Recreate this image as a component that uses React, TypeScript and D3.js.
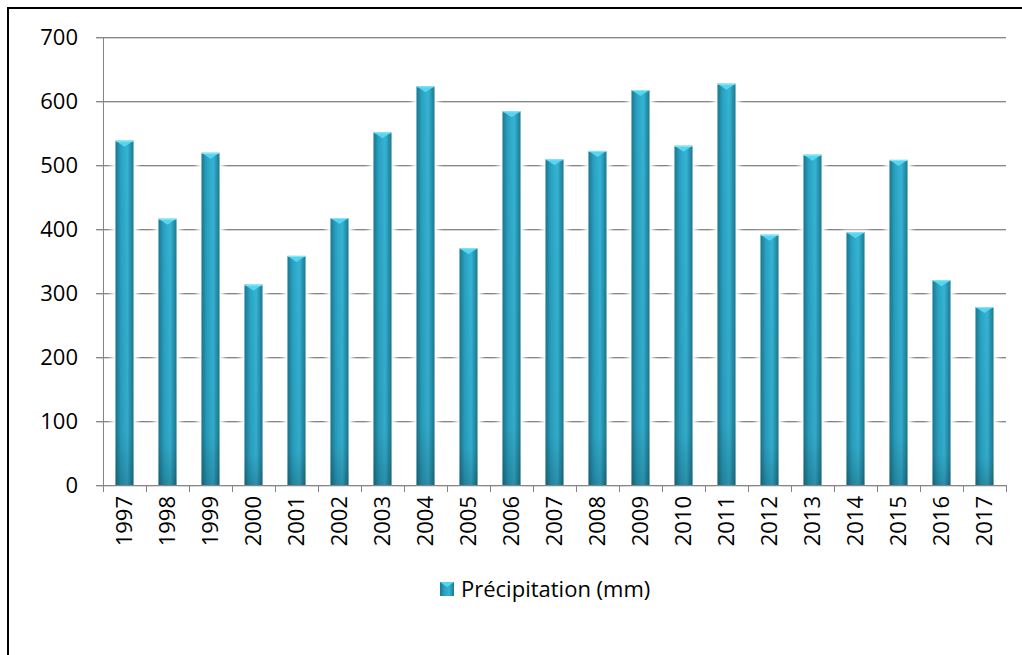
import * as d3 from "d3";
import { useEffect, useRef } from "react";

const years = [
  "1997", "1998", "1999", "2000", "2001", "2002", "2003", "2004", "2005", "2006", "2007",
  "2008", "2009", "2010", "2011", "2012", "2013", "2014", "2015", "2016", "2017",
];
const precip = [
  538, 416, 519, 313, 358, 417, 551, 623, 370, 584, 509,
  522, 617, 530, 627, 391, 516, 395, 508, 320, 278,
];
const yTicks = [0, 100, 200, 300, 400, 500, 600, 700];
const legendLabel = "Précipitation (mm)";

const W = 1022;
const H = 655;
const font = "'Open Sans', 'Liberation Sans', sans-serif";
const fs = 22;

const drawChart = (target: any) => {
  const m = { top: 37, left: 103, right: 16, bottom: 170 };
  const svg = d3.select(target);
  svg.selectAll("*").remove();

  const defs = svg.append("defs");
  const grad = defs
    .append("linearGradient")
    .attr("id", "barGrad")
    .attr("x1", "0%")
    .attr("x2", "100%");
  [
    [0, "#1b7690"],
    [0.3, "#2aa2c2"],
    [0.65, "#35b4d4"],
    [1, "#1c7891"],
  ].forEach(([o, c]) =>
    grad.append("stop").attr("offset", o as number).attr("stop-color", c as string)
  );
  const vgrad = defs
    .append("linearGradient")
    .attr("id", "barShade")
    .attr("x1", "0")
    .attr("x2", "0")
    .attr("y1", "0")
    .attr("y2", "1");
  vgrad.append("stop").attr("offset", 0).attr("stop-color", "#000").attr("stop-opacity", 0);
  vgrad.append("stop").attr("offset", 0.85).attr("stop-color", "#000").attr("stop-opacity", 0.05);
  vgrad.append("stop").attr("offset", 1).attr("stop-color", "#000").attr("stop-opacity", 0.2);
  defs
    .append("filter")
    .attr("id", "glow")
    .attr("x", "-50%")
    .attr("width", "200%")
    .append("feGaussianBlur")
    .attr("stdDeviation", 2.5);

  svg
    .append("rect")
    .attr("width", W)
    .attr("height", H)
    .attr("fill", "#fff");

  // outer frame
  svg
    .append("rect")
    .attr("x", 8)
    .attr("y", 8)
    .attr("width", 1040)
    .attr("height", 700)
    .attr("fill", "none")
    .attr("stroke", "#000")
    .attr("stroke-width", 2);

  const x = d3
    .scaleBand()
    .domain(years)
    .range([m.left, W - m.right])
    .paddingInner(0.58)
    .paddingOuter(0.29);
  const y = d3
    .scaleLinear()
    .domain([0, 700])
    .range([H - m.bottom, m.top]);

  // gridlines
  const grid = svg.append("g");
  yTicks.forEach((t) => {
    grid
      .append("line")
      .attr("x1", m.left - 7)
      .attr("x2", W - m.right)
      .attr("y1", Math.round(y(t)) + 1.5)
      .attr("y2", Math.round(y(t)) + 1.5)
      .attr("stroke", "#d4d4d4")
      .attr("stroke-width", 1);
    grid
      .append("line")
      .attr("x1", m.left - 7)
      .attr("x2", W - m.right)
      .attr("y1", Math.round(y(t)) + 0.5)
      .attr("y2", Math.round(y(t)) + 0.5)
      .attr("stroke", "#868686")
      .attr("stroke-width", 1);
  });

  // y axis line
  svg
    .append("line")
    .attr("x1", m.left + 0.5)
    .attr("x2", m.left + 0.5)
    .attr("y1", y(700))
    .attr("y2", y(0) + 0.5)
    .attr("stroke", "#868686");

  // y labels
  svg
    .append("g")
    .selectAll("text")
    .data(yTicks)
    .join("text")
    .attr("x", 78)
    .attr("y", (d) => y(d))
    .attr("dy", "0.36em")
    .attr("text-anchor", "end")
    .attr("font-family", font)
    .attr("font-size", fs)
    .attr("fill", "#000")
    .text((d) => d);

  // bar halo (masks gridlines near bars)
  const bw = x.bandwidth();
  svg
    .append("g")
    .attr("filter", "url(#glow)")
    .selectAll("rect")
    .data(precip)
    .join("rect")
    .attr("x", (_, i) => x(years[i])! - 4)
    .attr("y", (d) => y(d) - 2)
    .attr("width", bw + 8)
    .attr("height", (d) => y(0) - y(d) + 2)
    .attr("fill", "#fff");

  const bars = svg.append("g");
  precip.forEach((v, i) => {
    const bx = x(years[i])!;
    const by = y(v);
    const bh = y(0) - by;
    bars
      .append("rect")
      .attr("x", bx)
      .attr("y", by)
      .attr("width", bw)
      .attr("height", bh)
      .attr("fill", "url(#barGrad)");
    bars
      .append("rect")
      .attr("x", bx)
      .attr("y", by)
      .attr("width", bw)
      .attr("height", bh)
      .attr("fill", "url(#barShade)");
    bars
      .append("path")
      .attr("d", `M${bx},${by}L${bx + bw},${by}L${bx + bw / 2},${by + 6}Z`)
      .attr("fill", "#55d6f0");
    bars
      .append("line")
      .attr("x1", bx)
      .attr("x2", bx + bw)
      .attr("y1", by + 0.5)
      .attr("y2", by + 0.5)
      .attr("stroke", "#8fe6f6")
      .attr("stroke-width", 1);
  });

  // x axis
  const step = x.step();
  svg
    .append("line")
    .attr("x1", m.left)
    .attr("x2", W - m.right)
    .attr("y1", y(0) + 0.5)
    .attr("y2", y(0) + 0.5)
    .attr("stroke", "#868686");
  d3.range(years.length + 1).forEach((i) => {
    const tx = Math.round(m.left + i * step) + 0.5;
    svg
      .append("line")
      .attr("x1", tx)
      .attr("x2", tx)
      .attr("y1", y(0))
      .attr("y2", y(0) + 7)
      .attr("stroke", "#868686");
  });

  svg
    .append("g")
    .selectAll("text")
    .data(years)
    .join("text")
    .attr(
      "transform",
      (d) => `translate(${x(d)! + bw / 2},${y(0) + 11}) rotate(-90)`
    )
    .attr("dy", "0.36em")
    .attr("text-anchor", "end")
    .attr("font-family", font)
    .attr("font-size", fs)
    .attr("fill", "#000")
    .text((d) => d);

  // legend
  const lg = svg.append("g").attr("transform", "translate(440,582)");
  lg.append("rect")
    .attr("width", 14)
    .attr("height", 14)
    .attr("fill", "url(#barGrad)");
  lg.append("path").attr("d", "M0,0L14,0L7,5Z").attr("fill", "#55d6f0");
  lg.append("text")
    .attr("x", 21)
    .attr("y", 7)
    .attr("dy", "0.36em")
    .attr("font-family", font)
    .attr("font-size", fs)
    .attr("fill", "#000")
    .text(legendLabel);
};

const App = () => {
  const ref = useRef<SVGSVGElement>(null);
  useEffect(() => {
    if (ref.current) drawChart(ref.current);
  }, []);
  return (
    <svg
      ref={ref}
      width={W}
      height={H}
      style={{ position: "absolute", left: 0, top: 0, display: "block" }}
    />
  );
};

export default App;
